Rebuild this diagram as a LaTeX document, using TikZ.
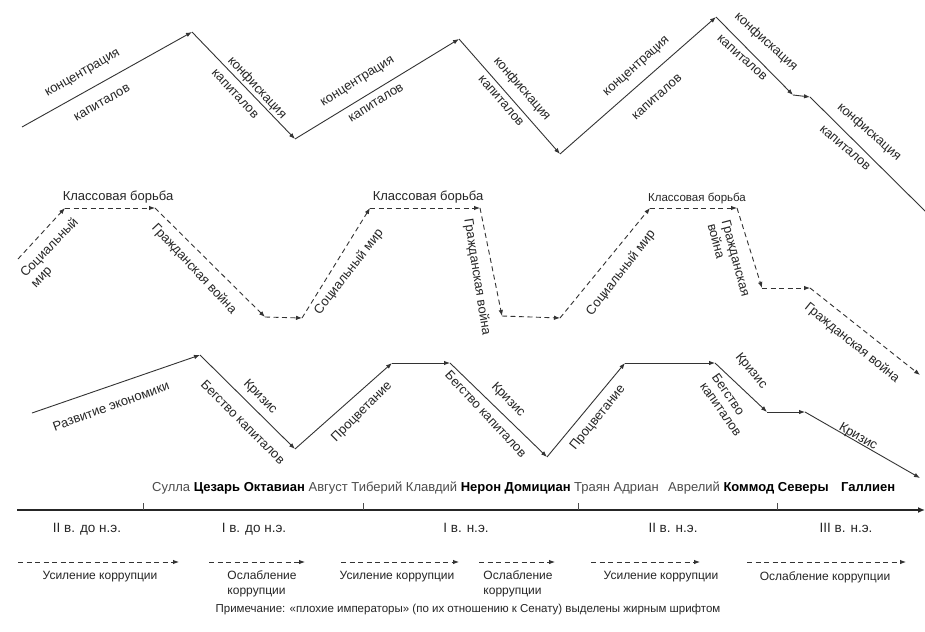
\documentclass[tikz,border=0pt]{standalone}
\usepackage{fontspec}
\setmainfont{Liberation Sans}
\usetikzlibrary{arrows.meta}
\begin{document}
\begin{tikzpicture}[x=1pt,y=-1pt,
  ln/.style={draw=black!80, line width=0.9pt, -{Latex[length=6pt,width=4.5pt]}},
  plainln/.style={draw=black!80, line width=0.9pt},
  dl/.style={ln, dash pattern=on 5pt off 3.5pt},
  lab/.style={font=\fontsize{13}{14.5}\selectfont, inner sep=0pt, text=black!85},
  labs/.style={font=\fontsize{11.5}{13}\selectfont, inner sep=0pt, text=black!85},
  nmrow/.style={font=\fontsize{13}{14}\selectfont, inner sep=0pt, text=black, anchor=base west},
  cent/.style={font=\fontsize{13.5}{15}\selectfont, inner sep=0pt, text=black!85, anchor=base},
  cor/.style={font=\fontsize{12}{15}\selectfont, inner sep=0pt, text=black!85, align=left},
  axis/.style={draw=black!85, line width=1.8pt, -{Latex[length=7pt,width=6pt]}},
  tick/.style={draw=black!70, line width=0.6pt}]
\useasboundingbox[fill=white] (0,0) rectangle (925,631);

% ---------- top row (capital) ----------
\coordinate (t0) at (22,127);
\coordinate (t1) at (192,32);
\coordinate (t2) at (295,139);
\coordinate (t3) at (459,39);
\coordinate (t4) at (560,154);
\coordinate (t5) at (716,17);
\coordinate (t6) at (793,95);
\coordinate (t7) at (810,97);
\coordinate (t8) at (926,212);
\draw[ln] (t0) -- (t1);
\draw[ln] (t1) -- (t2);
\draw[ln] (t2) -- (t3);
\draw[ln] (t3) -- (t4);
\draw[ln] (t4) -- (t5);
\draw[ln] (t5) -- (t6);
\draw[ln] (t6) -- (t7);
\draw[plainln] (t7) -- (t8);

\node[lab, rotate=30] (c1) at (83,74) {концентрация};
\node[lab, rotate=30] (k1) at (102,103) {капиталов};
\node[lab, rotate=-47] (f1) at (257,88) {конфискация};
\node[lab, rotate=-47] (kf1) at (235,94) {капиталов};
\node[lab, rotate=32] (c2) at (358,82) {концентрация};
\node[lab, rotate=32] (k2) at (376,103) {капиталов};
\node[lab, rotate=-49] (f2) at (522,89) {конфискация};
\node[lab, rotate=-49] (kf2) at (501,101) {капиталов};
\node[lab, rotate=42] (c3) at (637,67) {концентрация};
\node[lab, rotate=42] (k3) at (657,97) {капиталов};
\node[lab, rotate=-42] (f3) at (766,42) {конфискация};
\node[lab, rotate=-42] (kf3) at (742,58) {капиталов};
\node[lab, rotate=-41] (f4) at (869,132) {конфискация};
\node[lab, rotate=-41] (kf4) at (845,148) {капиталов};

% ---------- middle row (class struggle) ----------
\coordinate (m0) at (18,259);
\coordinate (m1) at (65,208);
\coordinate (m2) at (155,208);
\coordinate (m3) at (265,317);
\coordinate (m4) at (302,318);
\coordinate (m5) at (370,208);
\coordinate (m6) at (480,208);
\coordinate (m7) at (502,316);
\coordinate (m8) at (560,318);
\coordinate (m9) at (650,208);
\coordinate (m10) at (737,208);
\coordinate (m11) at (762,288);
\coordinate (m12) at (810,288);
\coordinate (m13) at (920,375);
\draw[dl] (m0) -- (m1);
\draw[dl] (m1) -- (m2);
\draw[dl] (m2) -- (m3);
\draw[dl] (m3) -- (m4);
\draw[dl] (m4) -- (m5);
\draw[dl] (m5) -- (m6);
\draw[dl] (m6) -- (m7);
\draw[dl] (m7) -- (m8);
\draw[dl] (m8) -- (m9);
\draw[dl] (m9) -- (m10);
\draw[dl] (m10) -- (m11);
\draw[dl] (m11) -- (m12);
\draw[dl] (m12) -- (m13);

\node[lab] (kb1) at (118,197) {Классовая борьба};
\node[lab, rotate=46, align=left] (sm1) at (55,253) {Социальный\\мир};
\node[lab, rotate=-47] (gv1) at (194,269) {Гражданская война};
\node[lab] (kb2) at (428,197) {Классовая борьба};
\node[lab, rotate=52] (sm2) at (349,272) {Социальный мир};
\node[lab, rotate=-81] (gv2) at (477,277) {Гражданская война};
\node[lab, rotate=52] (sm3) at (621,273) {Социальный мир};
\node[labs] (kb3) at (697,198) {Классовая борьба};
\node[lab, rotate=-75, align=left] (gv3) at (729,260) {Гражданская\\война};
\node[lab, rotate=-39] (gv4) at (852,343) {Гражданская война};

% ---------- bottom row (economy) ----------
\coordinate (b0) at (32,413);
\coordinate (b1) at (200,355);
\coordinate (b2) at (295,449);
\coordinate (b3) at (392,363);
\coordinate (b4) at (450,363);
\coordinate (b5) at (547,457);
\coordinate (b6) at (625,363);
\coordinate (b7) at (715,363);
\coordinate (b8) at (767,412);
\coordinate (b9) at (805,412);
\coordinate (b10) at (920,478);
\draw[ln] (b0) -- (b1);
\draw[ln] (b1) -- (b2);
\draw[ln] (b2) -- (b3);
\draw[ln] (b3) -- (b4);
\draw[ln] (b4) -- (b5);
\draw[ln] (b5) -- (b6);
\draw[ln] (b6) -- (b7);
\draw[ln] (b7) -- (b8);
\draw[ln] (b8) -- (b9);
\draw[ln] (b9) -- (b10);

\node[lab, rotate=20] (re) at (111,406) {Развитие экономики};
\node[lab, rotate=-45] (kr1) at (260,397) {Кризис};
\node[lab, rotate=-45] (bk1) at (243,422) {Бегство капиталов};
\node[lab, rotate=45] (pr1) at (362,412) {Процветание};
\node[lab, rotate=-45] (kr2) at (508,400) {Кризис};
\node[lab, rotate=-47] (bk2) at (486,414) {Бегство капиталов};
\node[lab, rotate=51] (pr2) at (598,418) {Процветание};
\node[lab, rotate=-50] (kr3) at (751,371) {Кризис};
\node[lab, rotate=-55, align=left] (bk3) at (727,405) {Бегство\\капиталов};
\node[lab, rotate=-30] (kr4) at (858,437) {Кризис};

% ---------- rulers ----------
\node[nmrow] (names1) at (152,491)
  {\textcolor{black!70}{Сулла} \textbf{Цезарь Октавиан} \textcolor{black!70}{Август Тиберий Клавдий} \textbf{Нерон Домициан} \textcolor{black!70}{Траян Адриан}};
\node[nmrow] (names2) at (668,491)
  {\textcolor{black!70}{Аврелий} \textbf{Коммод Северы}};
\node[nmrow] (names3) at (841,491) {\textbf{Галлиен}};

% ---------- time axis ----------
\coordinate (ax0) at (17,510);
\coordinate (ax1) at (925,510);
\draw[axis] (ax0) -- (ax1);
\foreach \x/\n in {143/k1,363/k2,578/k3,777/k4}{
  \coordinate (tk\n a) at (\x,510);
  \coordinate (tk\n b) at (\x,503);
  \draw[tick] (tk\n a) -- (tk\n b);
}
\node[cent] (v1) at (87,532) {II в. до н.э.};
\node[cent] (v2) at (254,532) {I в. до н.э.};
\node[cent] (v3) at (466,532) {I в. н.э.};
\node[cent] (v4) at (673,532) {II в. н.э.};
\node[cent] (v5) at (846,532) {III в. н.э.};

% ---------- corruption ----------
\coordinate (a1s) at (18,562);  \coordinate (a1e) at (179,562);
\coordinate (a2s) at (209,562); \coordinate (a2e) at (305,562);
\coordinate (a3s) at (341,562); \coordinate (a3e) at (459,562);
\coordinate (a4s) at (479,562); \coordinate (a4e) at (555,562);
\coordinate (a5s) at (591,562); \coordinate (a5e) at (700,562);
\coordinate (a6s) at (747,562); \coordinate (a6e) at (906,562);
\foreach \i in {1,...,6}{\draw[dl] (a\i s) -- (a\i e);}
\node[cor] (u1) at (100,577) {Усиление коррупции};
\node[cor] (o1) at (262,584) {Ослабление\\коррупции};
\node[cor] (u2) at (397,577) {Усиление коррупции};
\node[cor] (o2) at (518,584) {Ослабление\\коррупции};
\node[cor] (u3) at (661,577) {Усиление коррупции};
\node[cor] (o3) at (825,577) {Ослабление коррупции};

\node[font=\fontsize{11.5}{13}\selectfont, inner sep=0pt, text=black!85] (note) at (468,610)
  {Примечание: «плохие императоры» (по их отношению к Сенату) выделены жирным шрифтом};
\end{tikzpicture}
\end{document}
